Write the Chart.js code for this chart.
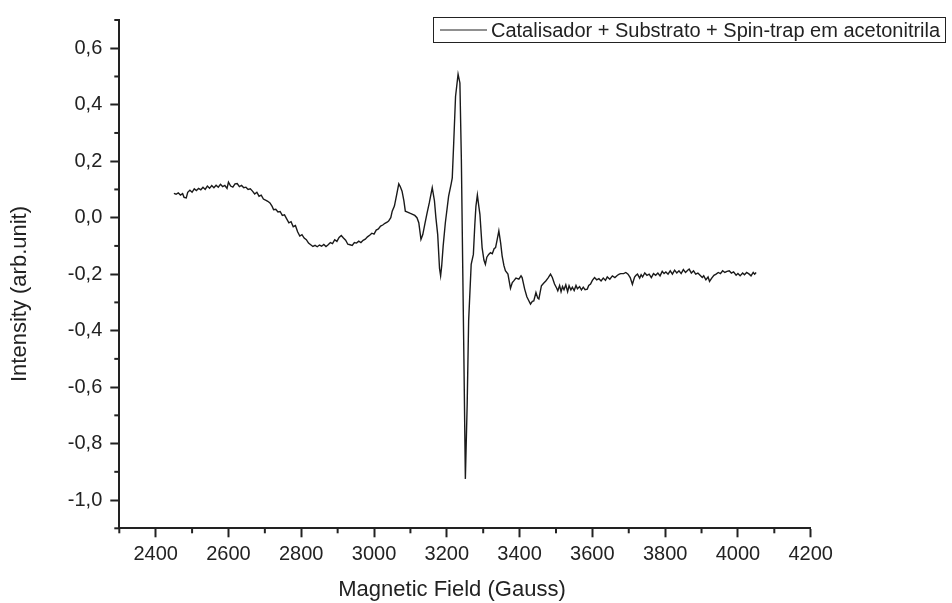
<!DOCTYPE html>
<html>
<head>
<meta charset="utf-8">
<script src="https://cdn.jsdelivr.net/npm/chart.js@4/dist/chart.umd.min.js"></script>
<style>
  html, body { margin: 0; padding: 0; background: #fff; }
  #wrap { width: 952px; height: 603px; position: relative; }
</style>
</head>
<body>
<div id="wrap"><canvas id="c" width="952" height="603"></canvas></div>
<script>
const seriesLabel = "Catalisador + Substrato + Spin-trap em acetonitrila";
const xTitle = "Magnetic Field (Gauss)";
const yTitle = "Intensity (arb.unit)";

const xTickValues = [2400, 2600, 2800, 3000, 3200, 3400, 3600, 3800, 4000, 4200];
const yTickValues = [-1.0, -0.8, -0.6, -0.4, -0.2, 0.0, 0.2, 0.4, 0.6];
const xMinorValues = [2300, 2500, 2700, 2900, 3100, 3300, 3500, 3700, 3900, 4100];
const yMinorValues = [-1.1, -0.9, -0.7, -0.5, -0.3, -0.1, 0.1, 0.3, 0.5, 0.7];

const fieldG = [
2450,2456,2462,2468,2474,2478,2484,2488,2494,2500,2506,2512,2518,2524,2530,2536,2542,2548,2554,2560,
2566,2572,2578,2584,2590,2596,2600,2606,2612,2618,2624,2630,2636,2642,2648,2654,2660,2666,2672,2678,
2684,2690,2696,2702,2708,2714,2720,2724,2730,2736,2742,2748,2754,2760,2766,2772,2778,2784,2790,2796,
2802,2808,2814,2820,2826,2832,2838,2844,2850,2856,2862,2868,2874,2880,2886,2892,2898,2904,2910,2916,
2922,2928,2934,2940,2946,2952,2958,2964,2970,2976,2982,2988,2994,3000,3006,3012,3018,3024,3030,3036,
3040,3046,3050,3056,3062,3068,3072,3077,3082,3086,3092,3100,3106,3112,3118,3123,3129,3134,3140,3146,
3152,3160,3166,3170,3175,3180,3183,3186,3190,3196,3205,3212,3215,3219,3224,3231,3236,3240,3244,3247,
3251,3256,3260,3267,3273,3277,3280,3284,3288,3291,3297,3302,3306,3310,3315,3320,3325,3330,3334,3338,
3343,3348,3352,3357,3361,3368,3375,3380,3384,3390,3398,3404,3407,3414,3420,3423,3430,3435,3439,3445,
3450,3453,3460,3466,3472,3478,3485,3490,3496,3502,3505,3510,3514,3518,3522,3527,3532,3536,3541,3545,
3550,3555,3559,3565,3570,3575,3580,3586,3590,3595,3600,3606,3612,3618,3624,3630,3636,3641,3648,3655,
3662,3669,3674,3678,3686,3692,3698,3704,3710,3716,3720,3724,3730,3734,3738,3744,3750,3756,3762,3768,
3774,3780,3786,3792,3797,3802,3808,3814,3820,3826,3832,3838,3844,3850,3856,3862,3866,3872,3878,3884,
3890,3896,3902,3906,3912,3918,3922,3928,3934,3940,3946,3952,3958,3964,3970,3976,3982,3988,3995,4000,
4006,4013,4018,4024,4031,4036,4042,4046,4050
];

const intensity = [
0.086,0.083,0.088,0.080,0.085,0.072,0.070,0.090,0.097,0.090,0.102,0.096,0.104,0.099,0.108,0.100,0.112,0.104,0.114,0.106,
0.115,0.108,0.118,0.110,0.114,0.104,0.126,0.112,0.108,0.120,0.121,0.110,0.114,0.106,0.108,0.100,0.102,0.094,0.084,0.090,
0.076,0.080,0.066,0.062,0.058,0.052,0.040,0.028,0.030,0.020,0.022,0.008,0.010,-0.004,-0.018,-0.014,-0.032,-0.028,-0.050,-0.065,
-0.060,-0.072,-0.078,-0.090,-0.096,-0.102,-0.098,-0.103,-0.097,-0.101,-0.095,-0.102,-0.096,-0.088,-0.092,-0.078,-0.084,-0.070,-0.063,-0.072,
-0.080,-0.094,-0.096,-0.098,-0.088,-0.090,-0.083,-0.088,-0.080,-0.076,-0.068,-0.062,-0.055,-0.058,-0.044,-0.040,-0.030,-0.026,-0.020,-0.016,
-0.012,0.000,0.023,0.041,0.080,0.120,0.110,0.094,0.060,0.023,0.020,0.015,0.012,0.008,0.000,-0.018,-0.077,-0.060,-0.020,0.018,
0.053,0.106,0.060,0.000,-0.060,-0.180,-0.206,-0.170,-0.100,-0.018,0.076,0.120,0.141,0.265,0.429,0.508,0.477,0.206,-0.200,-0.500,
-0.925,-0.660,-0.365,-0.165,-0.130,-0.024,0.040,0.080,0.040,0.012,-0.106,-0.150,-0.165,-0.140,-0.130,-0.124,-0.128,-0.110,-0.106,-0.080,
-0.047,-0.090,-0.135,-0.170,-0.188,-0.200,-0.250,-0.230,-0.224,-0.214,-0.218,-0.206,-0.212,-0.253,-0.280,-0.288,-0.306,-0.296,-0.295,-0.265,
-0.285,-0.288,-0.241,-0.232,-0.224,-0.214,-0.200,-0.212,-0.235,-0.250,-0.259,-0.240,-0.262,-0.244,-0.255,-0.238,-0.262,-0.241,-0.256,-0.246,
-0.258,-0.240,-0.252,-0.244,-0.256,-0.246,-0.255,-0.253,-0.240,-0.235,-0.222,-0.212,-0.220,-0.216,-0.224,-0.214,-0.222,-0.210,-0.218,-0.206,
-0.212,-0.204,-0.200,-0.198,-0.198,-0.194,-0.200,-0.212,-0.236,-0.210,-0.204,-0.200,-0.214,-0.202,-0.210,-0.196,-0.204,-0.200,-0.212,-0.198,
-0.204,-0.196,-0.206,-0.190,-0.198,-0.192,-0.200,-0.188,-0.200,-0.186,-0.196,-0.188,-0.198,-0.184,-0.194,-0.186,-0.182,-0.196,-0.188,-0.200,
-0.196,-0.204,-0.212,-0.206,-0.220,-0.210,-0.226,-0.214,-0.204,-0.200,-0.194,-0.198,-0.188,-0.194,-0.190,-0.188,-0.196,-0.192,-0.204,-0.198,
-0.206,-0.196,-0.202,-0.194,-0.200,-0.206,-0.194,-0.200,-0.194
];

const xMin = 2300, xMax = 4200;
const yMin = -1.1, yMax = 0.7;

const ink = '#222222';
const FONT = '"Liberation Sans", Arial, Helvetica, sans-serif';

const points = fieldG.map((g, i) => ({ x: g, y: intensity[i] }));

const minorTicks = {
  id: 'minorTicks',
  afterDraw(chart) {
    const ctx = chart.ctx;
    const xs = chart.scales.x, ys = chart.scales.y;
    ctx.save();
    ctx.strokeStyle = ink;
    ctx.lineWidth = 2;
    xMinorValues.forEach(v => {
      const px = xs.getPixelForValue(v);
      ctx.beginPath(); ctx.moveTo(px, xs.top); ctx.lineTo(px, xs.top + 5); ctx.stroke();
    });
    yMinorValues.forEach(v => {
      const py = ys.getPixelForValue(v);
      ctx.beginPath(); ctx.moveTo(ys.right, py); ctx.lineTo(ys.right - 5, py); ctx.stroke();
    });
    ctx.restore();
  }
};

const titlesAndLegend = {
  id: 'titlesAndLegend',
  afterDraw(chart) {
    const ctx = chart.ctx;
    ctx.save();
    ctx.fillStyle = ink;
    ctx.font = '22px ' + FONT;
    ctx.textAlign = 'center'; ctx.textBaseline = 'middle';
    ctx.fillText(xTitle, 452, 590);
    ctx.save();
    ctx.translate(20, 294);
    ctx.rotate(-Math.PI / 2);
    ctx.fillText(yTitle, 0, 0);
    ctx.restore();
    ctx.font = '20px ' + FONT;
    const tw = ctx.measureText(seriesLabel).width;
    const left = 433, top = 17, h = 25;
    const sample = 47, gap = 4, padL = 7, padR = 5;
    const right = left + padL + sample + gap + tw + padR;
    ctx.strokeStyle = ink; ctx.lineWidth = 1;
    ctx.strokeRect(left + 0.5, top + 0.5, Math.round(right - left), h);
    const cy = top + h / 2 + 0.5;
    ctx.beginPath();
    ctx.moveTo(left + padL, cy); ctx.lineTo(left + padL + sample, cy);
    ctx.lineWidth = 1.2; ctx.stroke();
    ctx.textBaseline = 'middle'; ctx.textAlign = 'left';
    ctx.fillText(seriesLabel, left + padL + sample + gap, cy + 1);
    ctx.restore();
  }
};

new Chart(document.getElementById('c'), {
  type: 'line',
  data: {
    datasets: [{
      label: seriesLabel,
      data: points,
      borderColor: '#1a1a1a',
      borderWidth: 1.4,
      pointRadius: 0,
      tension: 0,
      fill: false
    }]
  },
  options: {
    responsive: false,
    animation: false,
    parsing: false,
    layout: { padding: { left: 0, top: 15, right: 141.3, bottom: 0 } },
    plugins: { legend: { display: false }, tooltip: { enabled: false } },
    scales: {
      x: {
        type: 'linear', position: 'bottom', min: xMin, max: xMax,
        afterFit(s) { s.height = 74.7; },
        afterBuildTicks(s) { s.ticks = xTickValues.map(v => ({ value: v })); },
        border: { display: true, color: ink, width: 2 },
        grid: { drawOnChartArea: false, drawTicks: true, tickLength: 9, tickWidth: 2, tickColor: ink },
        ticks: {
          color: ink, padding: 5, maxRotation: 0, autoSkip: false,
          font: { family: FONT, size: 20 },
          callback: v => String(v)
        },
        title: { display: false }
      },
      y: {
        type: 'linear', position: 'left', min: yMin, max: yMax,
        afterFit(s) { s.width = 119.3; },
        afterBuildTicks(s) { s.ticks = yTickValues.map(v => ({ value: v })); },
        border: { display: true, color: ink, width: 2 },
        grid: { drawOnChartArea: false, drawTicks: true, tickLength: 9, tickWidth: 2, tickColor: ink },
        ticks: {
          color: ink, padding: 8, autoSkip: false,
          font: { family: FONT, size: 20 },
          callback: v => (Math.round(v * 10) / 10).toFixed(1).replace('.', ',')
        },
        title: { display: false }
      }
    }
  },
  plugins: [minorTicks, titlesAndLegend]
});
</script>
</body>
</html>
